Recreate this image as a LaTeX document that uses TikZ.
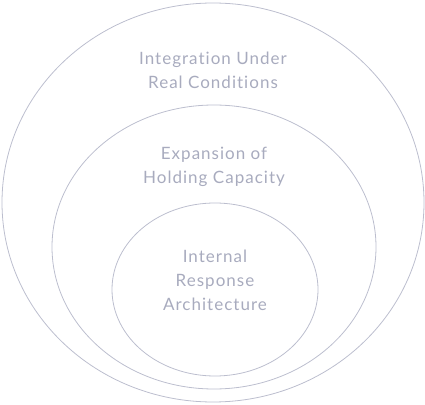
\documentclass[tikz,border=0pt]{standalone}
\usepackage{fontspec}
\setmainfont{Lato}[Ligatures=NoCommon, LetterSpace=6]
\usetikzlibrary{shapes,positioning}
\definecolor{ringline}{RGB}{188,190,206}
\definecolor{ringtext}{RGB}{168,171,190}

\begin{document}
\begin{tikzpicture}[x=1pt,y=1pt,
		ring/.style={draw=ringline, line width=0.8pt, ellipse, inner sep=0pt},
		ringlabel/.style={text=ringtext, align=center, font=\fontsize{17}{24}\selectfont}]
			\useasboundingbox (0,0) rectangle (425,404);
			\node[ring, minimum width=422pt, minimum height=399pt] (outer) at (213,201.5) {};
			\node[ring, minimum width=324pt, minimum height=284pt] (middle) at (214,157) {};
			\node[ring, minimum width=206pt, minimum height=173pt] (inner) at (215,114.5) {};
			
			\node[ringlabel] (integration) at (213,334) {Integration Under\\Real Conditions};
			\node[ringlabel] (expansion) at (214,237.5) {Expansion of\\Holding Capacity};
			\node[ringlabel] (internal) at (215,124) {Internal\\Response\\Architecture};
		\end{tikzpicture}
\end{document}
